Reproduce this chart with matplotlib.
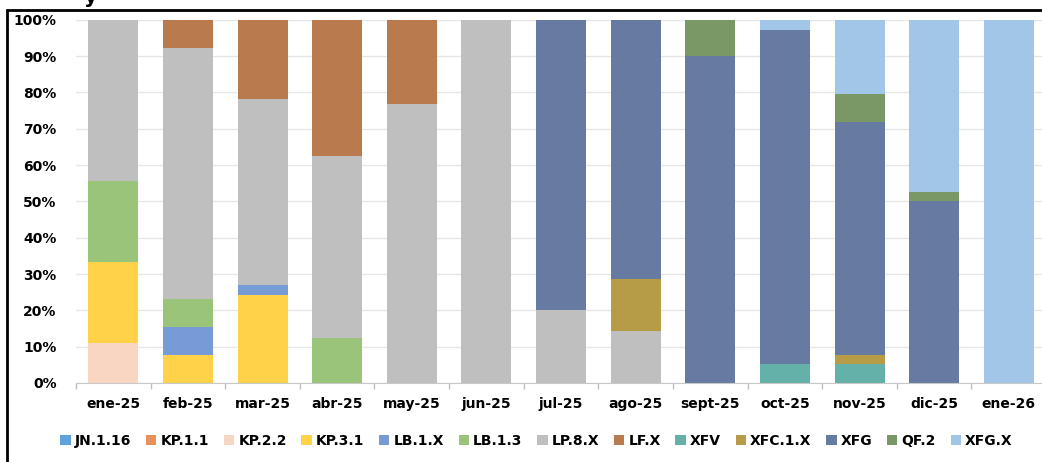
import numpy as np
import matplotlib.pyplot as plt
from matplotlib.patches import Rectangle

months = ['ene-25', 'feb-25', 'mar-25', 'abr-25', 'may-25', 'jun-25', 'jul-25',
          'ago-25', 'sept-25', 'oct-25', 'nov-25', 'dic-25', 'ene-26']

lineages = ['JN.1.16', 'KP.1.1', 'KP.2.2', 'KP.3.1', 'LB.1.X', 'LB.1.3', 'LP.8.X',
            'LF.X', 'XFV', 'XFC.1.X', 'XFG', 'QF.2', 'XFG.X']

colors = ['#5fa3dc', '#e8915a', '#f8d6c2', '#ffd24a', '#779bd6', '#9ac47a', '#bfbfbf',
          '#b97a4e', '#63b1a9', '#b79c48', '#667aa2', '#7a9766', '#a2c6e8']

# percentage of sequenced samples per lineage, one list per lineage (by month)
jn_1_16 = [0, 0, 0, 0, 0, 0, 0, 0, 0, 0, 0, 0, 0]
kp_1_1 = [0, 0, 0, 0, 0, 0, 0, 0, 0, 0, 0, 0, 0]
kp_2_2 = [11.1, 0, 0, 0, 0, 0, 0, 0, 0, 0, 0, 0, 0]
kp_3_1 = [22.2, 7.7, 24.1, 0, 0, 0, 0, 0, 0, 0, 0, 0, 0]
lb_1_x = [0, 7.7, 2.9, 0, 0, 0, 0, 0, 0, 0, 0, 0, 0]
lb_1_3 = [22.2, 7.7, 0, 12.5, 0, 0, 0, 0, 0, 0, 0, 0, 0]
lp_8_x = [44.5, 69.2, 51.3, 50.0, 76.9, 100, 20.0, 14.3, 0, 0, 0, 0, 0]
lf_x = [0, 7.7, 21.7, 37.5, 23.1, 0, 0, 0, 0, 0, 0, 0, 0]
xfv = [0, 0, 0, 0, 0, 0, 0, 0, 0, 5.2, 5.1, 0, 0]
xfc_1_x = [0, 0, 0, 0, 0, 0, 0, 14.3, 0, 0, 2.6, 0, 0]
xfg = [0, 0, 0, 0, 0, 0, 80.0, 71.4, 90.0, 92.1, 64.1, 50.0, 0]
qf_2 = [0, 0, 0, 0, 0, 0, 0, 0, 10.0, 0, 7.7, 2.6, 0]
xfg_x = [0, 0, 0, 0, 0, 0, 0, 0, 0, 2.7, 20.5, 47.4, 100]

series = [jn_1_16, kp_1_1, kp_2_2, kp_3_1, lb_1_x, lb_1_3, lp_8_x,
          lf_x, xfv, xfc_1_x, xfg, qf_2, xfg_x]

plt.rcParams['font.family'] = ['DejaVu Sans']
plt.rcParams['font.weight'] = 'bold'

fig = plt.figure(figsize=(10.42, 4.62), dpi=100)
ax = fig.add_axes([0.0729, 0.171, 0.931, 0.786])

x = np.arange(len(months))
bottom = np.zeros(len(months))
for name, vals, col in zip(lineages, series, colors):
    vals = np.array(vals, dtype=float)
    ax.bar(x, vals, bottom=bottom, width=0.67, color=col, label=name, zorder=2)
    bottom += vals

ax.set_xlim(-0.5, len(months) - 0.5)
ax.set_ylim(0, 100)
ax.set_yticks(np.arange(0, 101, 10))
ax.set_yticklabels([f'{v}%' for v in range(0, 101, 10)], fontsize=10, fontweight='bold')
ax.set_xticks(x)
ax.set_xticklabels(months, fontsize=10, fontweight='bold')
ax.set_xticks(np.arange(-0.5, len(months), 1), minor=True)
ax.tick_params(axis='y', length=0, pad=14)
ax.tick_params(axis='x', which='major', length=0, pad=10)
ax.tick_params(axis='x', which='minor', length=4, color='#bfbfbf', width=1)
ax.grid(axis='y', color='#e6e6e6', linewidth=1, zorder=0)
ax.set_axisbelow(True)
for s in ['top', 'right', 'left']:
    ax.spines[s].set_visible(False)
ax.spines['bottom'].set_color('#c8c8c8')

leg = fig.legend(loc='center', bbox_to_anchor=(0.515, 0.046), ncol=len(lineages),
                 frameon=False, fontsize=10, handlelength=0.75, handleheight=0.75,
                 handletextpad=0.3, columnspacing=1.05)
for t in leg.get_texts():
    t.set_fontweight('bold')

# title sits above the figure edge, only its descender shows
fig.text(84 / 1042, 1 - 3 / 462, 'y', fontsize=15, va='baseline', ha='left')

# outer frame around the chart
fig.patches.append(Rectangle((7 / 1042, -0.2), 1.2, 1.2 - 10 / 462,
                             transform=fig.transFigure, fill=False,
                             edgecolor='black', linewidth=2))

fig.savefig('out.png', dpi=100)
